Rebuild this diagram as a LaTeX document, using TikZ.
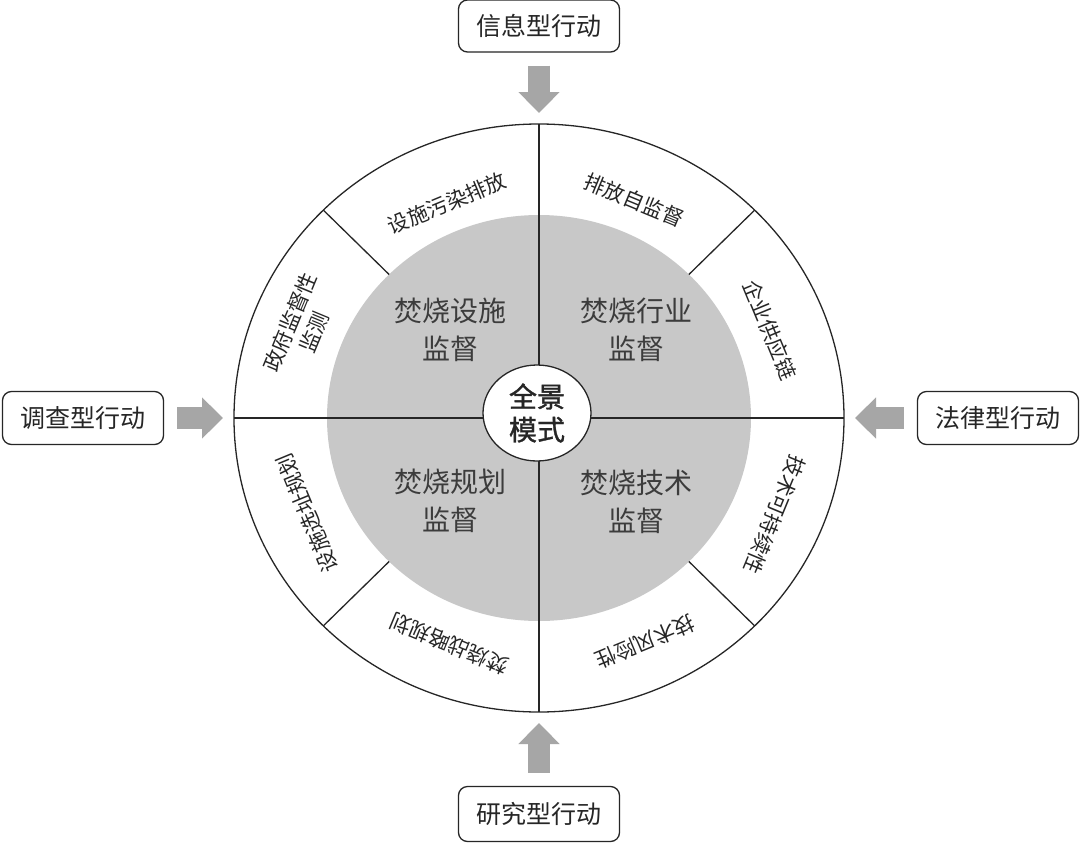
\documentclass[tikz,border=0pt]{standalone}
\usepackage{fontspec}
\newfontfamily\cjk{Noto Sans CJK SC}
\newfontfamily\cjkemb[FakeBold=1.2]{Noto Sans CJK SC}
\usetikzlibrary{arrows.meta,shapes.geometric}
\definecolor{ringgray}{HTML}{C8C8C8}
\definecolor{arrowgray}{HTML}{A6A6A6}
\definecolor{ink}{HTML}{262626}
\tikzset{
  divline/.style={draw=ink, line width=1.3pt},
  actbox/.style={draw=ink, line width=1.3pt, rounded corners=9pt, fill=white,
    minimum width=161pt, minimum height=52pt, inner sep=0pt,
    font=\cjk\fontsize{25}{30}\selectfont, text=ink},
  ringtext/.style={font=\cjk\fontsize{21}{26}\selectfont, align=center, text=ink, inner sep=0pt},
  midtext/.style={font=\cjk\fontsize{28}{38}\selectfont, align=center, text=ink!90, inner sep=0pt},
  corenode/.style={draw=ink, line width=1.3pt, fill=white, ellipse, inner sep=0pt,
    minimum width=108pt, minimum height=96pt, align=center,
    font=\cjkemb\fontsize{28}{33}\selectfont, text=ink},
  blockarrow/.style={draw=arrowgray, line width=22pt, line cap=butt,
    -{Triangle[length=21pt,width=40pt]}, shorten <=13pt, shorten >=11pt}
}
\begin{document}
\begin{tikzpicture}[x=1pt,y=-1pt]
\useasboundingbox (0,0) rectangle (1080,844);
\fill[white] (0,0) rectangle (1080,844);
\coordinate (C) at (539,418);
\coordinate (ringN) at (539,124);
\coordinate (ringS) at (539,712);
\coordinate (ringW) at (234,418);
\coordinate (ringE) at (844,418);
% inner gray disc
\fill[ringgray] (C) ellipse [x radius=212, y radius=203];
% cross lines
\draw[divline] (ringN) -- (ringS);
\draw[divline] (ringW) -- (ringE);
% diagonal dividers in ring
\begin{scope}[shift={(539,418)}]
  \foreach \a in {45,135,225,315}
    \draw[divline] (\a:212 and 203) -- (\a:305 and 294);
\end{scope}
% outer ring
\draw[divline] (C) ellipse [x radius=305, y radius=294];
% center
\node[corenode] (core) at (537,413) {全景\\模式};
% quadrant labels
\node[midtext] (q1) at (450,330) {焚烧设施\\监督};
\node[midtext] (q2) at (636,330) {焚烧行业\\监督};
\node[midtext] (q3) at (450,501) {焚烧规划\\监督};
\node[midtext] (q4) at (636,502) {焚烧技术\\监督};
% ring labels
\node[ringtext, rotate=22.5]  (r1) at (447,203) {设施污染排放};
\node[ringtext, rotate=-22.5] (r2) at (634,200) {排放自监督};
\node[ringtext, rotate=-67.5] (r3) at (770,330) {企业供应链};
\node[ringtext, rotate=-112.5] (r4) at (775,515) {技术可持续性};
\node[ringtext, rotate=-157.5] (r5) at (645,642) {技术风险性};
\node[ringtext, rotate=157.5] (r6) at (449,644) {焚烧战略规划};
\node[ringtext, rotate=112.5] (r7) at (307,513) {设施选址规划};
\node[ringtext, rotate=67.5] (r8) at (302,327) {政府监督性\\监测};
% action boxes
\node[actbox] (info) at (539,26) {信息型行动};
\node[actbox, minimum height=55pt] (research) at (539,814) {研究型行动};
\node[actbox, minimum height=53pt] (survey) at (83,418) {调查型行动};
\node[actbox, minimum height=53pt] (law) at (998,418) {法律型行动};
% block arrows
\draw[blockarrow] (info) -- (ringN);
\draw[blockarrow] (research) -- (ringS);
\draw[blockarrow] (survey) -- (ringW);
\draw[blockarrow] (law) -- (ringE);
\end{tikzpicture}
\end{document}
